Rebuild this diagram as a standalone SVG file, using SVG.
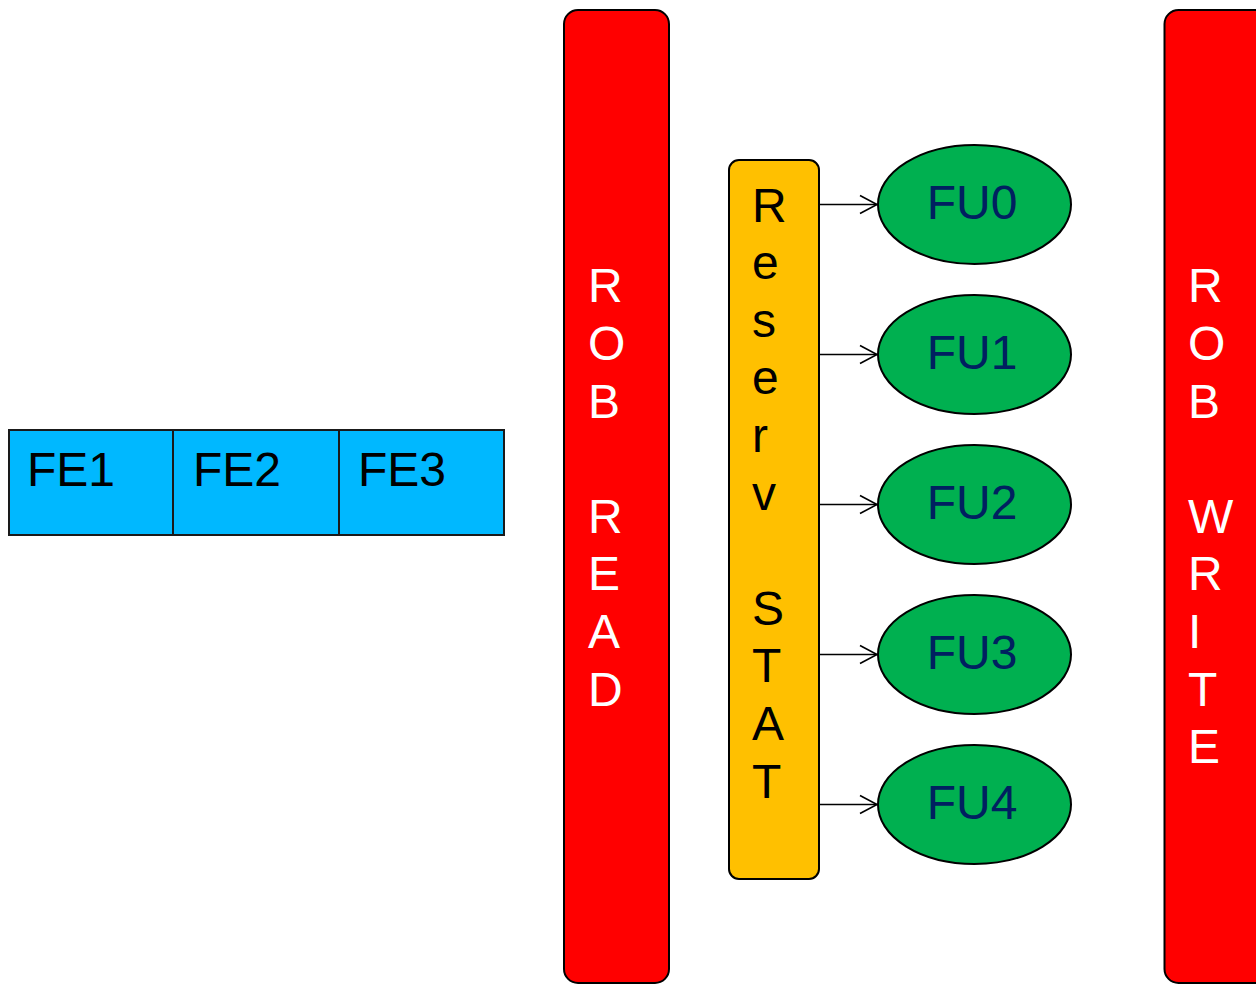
<svg xmlns="http://www.w3.org/2000/svg" width="1256" height="984" viewBox="0 0 1256 984">
<style>
text{font-family:"Liberation Sans",Arial,sans-serif;font-size:48px}
.fe{fill:#00B8FF;stroke:#1a1a1a;stroke-width:2}
.rob{fill:#FF0000;stroke:#000;stroke-width:2}
.rs{fill:#FFC000;stroke:#000;stroke-width:2}
.fu{fill:#00B050;stroke:#000;stroke-width:2}
.w{fill:#fff}
.k{fill:#000}
.fut{fill:#002060;text-anchor:middle}
.conn line{stroke:#000;stroke-width:1.6;fill:none}
</style>
<defs>
<marker id="arr" markerUnits="userSpaceOnUse" markerWidth="20" markerHeight="22" refX="18" refY="10" orient="auto" viewBox="0 0 20 20">
<path d="M1,1 L18,10 L1,19" fill="none" stroke="#000" stroke-width="1.6"/>
</marker>
</defs>
<g id="fe1"><rect class="fe" x="9" y="430" width="164" height="105"/><text class="k" x="27" y="486">FE1</text></g>
<g id="fe2"><rect class="fe" x="173" y="430" width="166" height="105"/><text class="k" x="193" y="486">FE2</text></g>
<g id="fe3"><rect class="fe" x="339" y="430" width="165" height="105"/><text class="k" x="358" y="486">FE3</text></g>
<g id="rob-read"><rect class="rob" x="564" y="10" width="105" height="973" rx="14"/>
<text class="w"><tspan x="588" y="302.4">R</tspan><tspan x="588" y="360">O</tspan><tspan x="588" y="417.6">B</tspan><tspan x="588" y="532.8">R</tspan><tspan x="588" y="590.4">E</tspan><tspan x="588" y="648">A</tspan><tspan x="588" y="705.6">D</tspan></text></g>
<g id="rob-write"><rect class="rob" x="1164.5" y="10" width="110" height="973" rx="14"/>
<text class="w"><tspan x="1188" y="302.4">R</tspan><tspan x="1188" y="360">O</tspan><tspan x="1188" y="417.6">B</tspan><tspan x="1188" y="532.8">W</tspan><tspan x="1188" y="590.4">R</tspan><tspan x="1188" y="648">I</tspan><tspan x="1188" y="705.6">T</tspan><tspan x="1188" y="763.2">E</tspan></text></g>
<g id="reserv-stat"><rect class="rs" x="729" y="160" width="90" height="719" rx="10"/>
<text class="k"><tspan x="752" y="221.5">R</tspan><tspan x="752" y="279.1">e</tspan><tspan x="752" y="336.7">s</tspan><tspan x="752" y="394.3">e</tspan><tspan x="752" y="451.9">r</tspan><tspan x="752" y="509.5">v</tspan><tspan x="752" y="624.7">S</tspan><tspan x="752" y="682.3">T</tspan><tspan x="752" y="739.9">A</tspan><tspan x="752" y="797.5">T</tspan></text></g>
<g id="fu0"><ellipse class="fu" cx="974.5" cy="204.5" rx="96.5" ry="59.5"/><text class="fut" x="972" y="219">FU0</text></g>
<g id="fu1"><ellipse class="fu" cx="974.5" cy="354.5" rx="96.5" ry="59.5"/><text class="fut" x="972" y="369">FU1</text></g>
<g id="fu2"><ellipse class="fu" cx="974.5" cy="504.5" rx="96.5" ry="59.5"/><text class="fut" x="972" y="519">FU2</text></g>
<g id="fu3"><ellipse class="fu" cx="974.5" cy="654.5" rx="96.5" ry="59.5"/><text class="fut" x="972" y="669">FU3</text></g>
<g id="fu4"><ellipse class="fu" cx="974.5" cy="804.5" rx="96.5" ry="59.5"/><text class="fut" x="972" y="819">FU4</text></g>
<g id="connectors" class="conn">
<line x1="819" y1="204.5" x2="877" y2="204.5" marker-end="url(#arr)"/>
<line x1="819" y1="354.5" x2="877" y2="354.5" marker-end="url(#arr)"/>
<line x1="819" y1="504.5" x2="877" y2="504.5" marker-end="url(#arr)"/>
<line x1="819" y1="654.5" x2="877" y2="654.5" marker-end="url(#arr)"/>
<line x1="819" y1="804.5" x2="877" y2="804.5" marker-end="url(#arr)"/>
</g>
</svg>
